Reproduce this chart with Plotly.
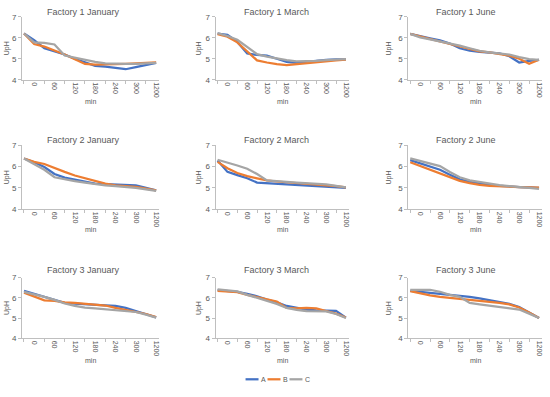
import plotly.graph_objects as go

# ---- data ----
sample_no = list(range(14))
label_samples = [1, 3, 5, 7, 9, 11, 13]
time_labels = ["0", "60", "120", "180", "240", "300", "1200"]
series_names = ["A", "B", "C"]

f1_jan_A = [6.2, 5.88, 5.5, 5.35, 5.2, 5.0, 4.82, 4.66, 4.62, 4.56, 4.5, 4.6, 4.7, 4.8]
f1_jan_B = [6.2, 5.7, 5.58, 5.4, 5.2, 4.98, 4.75, 4.72, 4.72, 4.74, 4.76, 4.78, 4.8, 4.83]
f1_jan_C = [6.2, 5.78, 5.75, 5.68, 5.15, 5.05, 4.92, 4.85, 4.78, 4.76, 4.76, 4.76, 4.77, 4.8]

f1_mar_A = [6.2, 6.14, 5.8, 5.25, 5.18, 5.15, 5.0, 4.85, 4.8, 4.85, 4.92, 4.95, 4.97, 4.97]
f1_mar_B = [6.17, 6.05, 5.78, 5.35, 4.92, 4.82, 4.74, 4.7, 4.75, 4.8, 4.84, 4.88, 4.92, 4.96]
f1_mar_C = [6.22, 6.08, 5.9, 5.55, 5.22, 5.1, 5.0, 4.93, 4.88, 4.88, 4.9, 4.93, 4.96, 4.98]

f1_jun_A = [6.18, 6.06, 5.97, 5.87, 5.72, 5.5, 5.38, 5.33, 5.3, 5.26, 5.12, 4.82, 4.9, 4.94]
f1_jun_B = [6.18, 6.05, 5.93, 5.82, 5.7, 5.58, 5.45, 5.35, 5.3, 5.22, 5.15, 5.0, 4.76, 4.95]
f1_jun_C = [6.18, 6.02, 5.92, 5.83, 5.72, 5.62, 5.5, 5.38, 5.3, 5.25, 5.2, 5.08, 4.98, 4.95]

f2_jan_A = [6.38, 6.2, 5.98, 5.65, 5.48, 5.38, 5.28, 5.2, 5.18, 5.17, 5.15, 5.12, 5.0, 4.88]
f2_jan_B = [6.38, 6.22, 6.12, 5.92, 5.75, 5.58, 5.45, 5.32, 5.2, 5.12, 5.08, 5.05, 4.97, 4.88]
f2_jan_C = [6.38, 6.1, 5.85, 5.5, 5.4, 5.32, 5.25, 5.18, 5.12, 5.08, 5.05, 5.0, 4.93, 4.86]

f2_mar_A = [6.28, 5.75, 5.6, 5.45, 5.25, 5.22, 5.2, 5.17, 5.14, 5.1, 5.08, 5.06, 5.04, 5.0]
f2_mar_B = [6.22, 5.92, 5.7, 5.55, 5.45, 5.35, 5.3, 5.27, 5.23, 5.2, 5.16, 5.12, 5.08, 5.03]
f2_mar_C = [6.32, 6.2, 6.05, 5.9, 5.65, 5.35, 5.3, 5.28, 5.25, 5.22, 5.2, 5.17, 5.1, 5.02]

f2_jun_A = [6.3, 6.15, 6.0, 5.85, 5.62, 5.4, 5.28, 5.2, 5.14, 5.1, 5.06, 5.04, 5.02, 5.0]
f2_jun_B = [6.2, 6.02, 5.85, 5.68, 5.5, 5.33, 5.22, 5.14, 5.1, 5.07, 5.05, 5.04, 5.03, 5.01]
f2_jun_C = [6.38, 6.25, 6.12, 6.02, 5.75, 5.5, 5.35, 5.27, 5.2, 5.13, 5.08, 5.05, 5.0, 4.95]

f3_jan_A = [6.35, 6.2, 6.05, 5.9, 5.75, 5.72, 5.7, 5.67, 5.63, 5.6, 5.5, 5.35, 5.2, 5.03]
f3_jan_B = [6.26, 6.08, 5.88, 5.85, 5.78, 5.75, 5.7, 5.67, 5.62, 5.5, 5.4, 5.32, 5.2, 5.05]
f3_jan_C = [6.3, 6.18, 6.05, 5.9, 5.72, 5.6, 5.52, 5.48, 5.44, 5.38, 5.34, 5.3, 5.17, 5.02]

f3_mar_A = [6.38, 6.35, 6.3, 6.2, 6.08, 5.92, 5.78, 5.6, 5.52, 5.42, 5.38, 5.37, 5.36, 5.02]
f3_mar_B = [6.35, 6.33, 6.28, 6.15, 6.05, 5.95, 5.82, 5.5, 5.48, 5.5, 5.48, 5.35, 5.22, 5.03]
f3_mar_C = [6.42, 6.38, 6.32, 6.15, 6.0, 5.85, 5.7, 5.5, 5.4, 5.34, 5.34, 5.33, 5.2, 5.0]

f3_jun_A = [6.35, 6.3, 6.25, 6.2, 6.18, 6.12, 6.05, 5.97, 5.88, 5.8, 5.7, 5.55, 5.28, 5.0]
f3_jun_B = [6.33, 6.22, 6.12, 6.05, 6.0, 5.98, 5.92, 5.87, 5.82, 5.75, 5.68, 5.52, 5.28, 5.0]
f3_jun_C = [6.4, 6.4, 6.4, 6.3, 6.15, 6.05, 5.75, 5.68, 5.62, 5.56, 5.5, 5.42, 5.22, 5.0]

panel_titles = ["Factory 1 January", "Factory 1 March", "Factory 1 June",
                "Factory 2 January", "Factory 2 March", "Factory 2 June",
                "Factory 3 January", "Factory 3 March", "Factory 3 June"]
panel_series = [
    (f1_jan_A, f1_jan_B, f1_jan_C), (f1_mar_A, f1_mar_B, f1_mar_C), (f1_jun_A, f1_jun_B, f1_jun_C),
    (f2_jan_A, f2_jan_B, f2_jan_C), (f2_mar_A, f2_mar_B, f2_mar_C), (f2_jun_A, f2_jun_B, f2_jun_C),
    (f3_jan_A, f3_jan_B, f3_jan_C), (f3_mar_A, f3_mar_B, f3_mar_C), (f3_jun_A, f3_jun_B, f3_jun_C),
]

# ---- styling / layout ----
W, H = 550, 397
colors = ["#4472C4", "#ED7D31", "#A5A5A5"]
axis_col = "#BFBFBF"
text_col = "#595959"
FONT = "Liberation Sans, Arial, sans-serif"

col_px = [(22, 159.5), (216, 349.5), (409, 543)]
row_px = [(13, 77.5), (144.5, 210), (280, 342)]
title_x = [84, 277, 467]
title_y = [8, 139, 272]
uph_x = [7, 199.5, 390]
min_y = [99.5, 231, 364.5]

fig = go.Figure()
annotations = []
shapes = []
for i, (title, ser) in enumerate(zip(panel_titles, panel_series)):
    r, c = divmod(i, 3)
    k = "" if i == 0 else str(i + 1)
    for s, (vals, name) in enumerate(zip(ser, series_names)):
        fig.add_trace(go.Scatter(
            x=sample_no, y=vals, mode="lines", name=name,
            line=dict(color=colors[s], width=2.25),
            xaxis="x" + k, yaxis="y" + k, showlegend=False, hoverinfo="skip",
        ))
    x0, x1 = col_px[c]
    y0, y1 = row_px[r]
    fig.layout["xaxis" + k] = dict(
        domain=[x0 / W, x1 / W], anchor="y" + k, range=[-0.2, 13.3],
        tickmode="array", tickvals=label_samples, ticktext=time_labels,
        tickangle=90, ticks="", showline=True, linecolor=axis_col, linewidth=1,
        showgrid=False, zeroline=False, ticklabeloverflow="allow",
        tickfont=dict(size=7, color=text_col, family=FONT),
        minor=dict(ticks="outside", tickmode="array", tickvals=list(range(0, 15, 2)),
                   ticklen=3, tickcolor=axis_col, showgrid=False),
    )
    fig.layout["yaxis" + k] = dict(
        domain=[1 - y1 / H, 1 - y0 / H], anchor="x" + k, range=[4, 7],
        tickvals=[4, 5, 6, 7], ticks="outside", ticklen=3, tickcolor=axis_col,
        showline=True, linecolor=axis_col, linewidth=1, showgrid=False, zeroline=False,
        tickfont=dict(size=8, color=text_col, family=FONT),
    )
    annotations.append(dict(text=title, x=title_x[c] / W, y=1 - title_y[r] / H,
                            xref="paper", yref="paper", showarrow=False,
                            font=dict(size=9, color=text_col, family=FONT),
                            xanchor="center", yanchor="middle"))
    annotations.append(dict(text="UpH", x=uph_x[c] / W, y=1 - (y0 + y1) / 2 / H,
                            xref="paper", yref="paper", showarrow=False, textangle=-90,
                            font=dict(size=7, color=text_col, family=FONT),
                            xanchor="center", yanchor="middle"))
    annotations.append(dict(text="min", x=(x0 + x1) / 2 / W, y=1 - min_y[r] / H,
                            xref="paper", yref="paper", showarrow=False,
                            font=dict(size=7, color=text_col, family=FONT),
                            xanchor="center", yanchor="middle"))

# compact legend (Excel style) at the bottom
leg_y = 1 - 384 / H
leg_start = 246
for s, name in enumerate(series_names):
    lx = leg_start + s * 22
    shapes.append(dict(type="line", xref="paper", yref="paper",
                       x0=lx / W, x1=(lx + 13) / W, y0=leg_y, y1=leg_y,
                       line=dict(color=colors[s], width=2.25)))
    annotations.append(dict(text=name, x=(lx + 13.5) / W, y=leg_y, xref="paper", yref="paper",
                            showarrow=False, xanchor="left", yanchor="middle",
                            font=dict(size=7, color=text_col, family=FONT)))

fig.update_layout(
    width=W, height=H, margin=dict(l=0, r=0, t=0, b=0),
    paper_bgcolor="white", plot_bgcolor="white",
    annotations=annotations, shapes=shapes, showlegend=False,
)

fig.write_html("out.html", config={"displayModeBar": False},
               post_script="document.body.style.margin='0';document.body.style.overflow='hidden';")
